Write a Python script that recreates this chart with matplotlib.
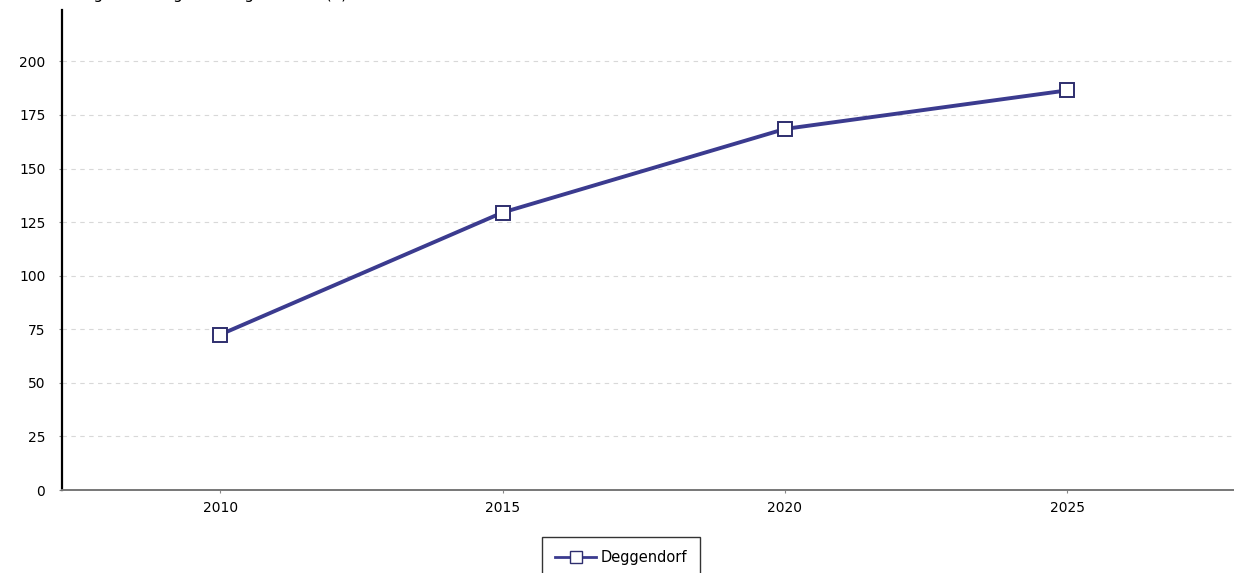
import matplotlib
matplotlib.use("Agg")
import matplotlib.pyplot as plt
from matplotlib.lines import Line2D

years = [2010, 2015, 2020, 2025]
values = [72.5, 129.5, 168.5, 186.5]
series_label = "Deggendorf"
title = "Pflegebedürftige in Pflegeheimen (1)"
yticks = [0, 25, 50, 75, 100, 125, 150, 175, 200]

W, H = 1234, 573
fig = plt.figure(figsize=(W / 100, H / 100), dpi=100)
ax = fig.add_axes([62 / W, 1 - 490 / H, (W - 62) / W, (490 - 10) / H])

line_col = "#3b3b8f"
ax.plot(years, values, color=line_col, linewidth=2.8, marker="s",
        markersize=10, markerfacecolor="white", markeredgecolor="#2e2e6e",
        markeredgewidth=1.4, zorder=3)

ax.set_xlim(2007.2, 2027.95)
ax.set_ylim(0, 224)
ax.set_yticks(yticks)
ax.set_xticks(years)
ax.tick_params(labelsize=10, length=2, color="#888888")
ax.tick_params(axis="y", pad=10)
ax.tick_params(axis="x", pad=6)
ax.grid(axis="y", color="#d8d8d8", linestyle=(0, (4, 4)), linewidth=0.8)
ax.set_axisbelow(True)

for s in ("top", "right"):
    ax.spines[s].set_visible(False)
ax.spines["left"].set_color("black")
ax.spines["left"].set_linewidth(1.6)
ax.spines["bottom"].set_color("#777777")
ax.spines["bottom"].set_linewidth(1.4)

# title sits mostly above the visible area, as in the reference
fig.text(65 / W, 1 + 1 / H, title, fontsize=11, va="baseline", ha="left")

handle = Line2D([], [], color=line_col, linewidth=2, marker="s", markersize=8,
                markerfacecolor="white", markeredgecolor="#2e2e6e")
fig.legend([handle], [series_label], loc="upper center",
           bbox_to_anchor=(621 / W, 1 - 537 / H), frameon=True, fancybox=False,
           edgecolor="black", handlelength=2.8, handletextpad=0.3,
           borderpad=0.9, borderaxespad=0,
           prop={"family": "DejaVu Sans", "size": 10.5})

fig.savefig("out.png", dpi=100)
